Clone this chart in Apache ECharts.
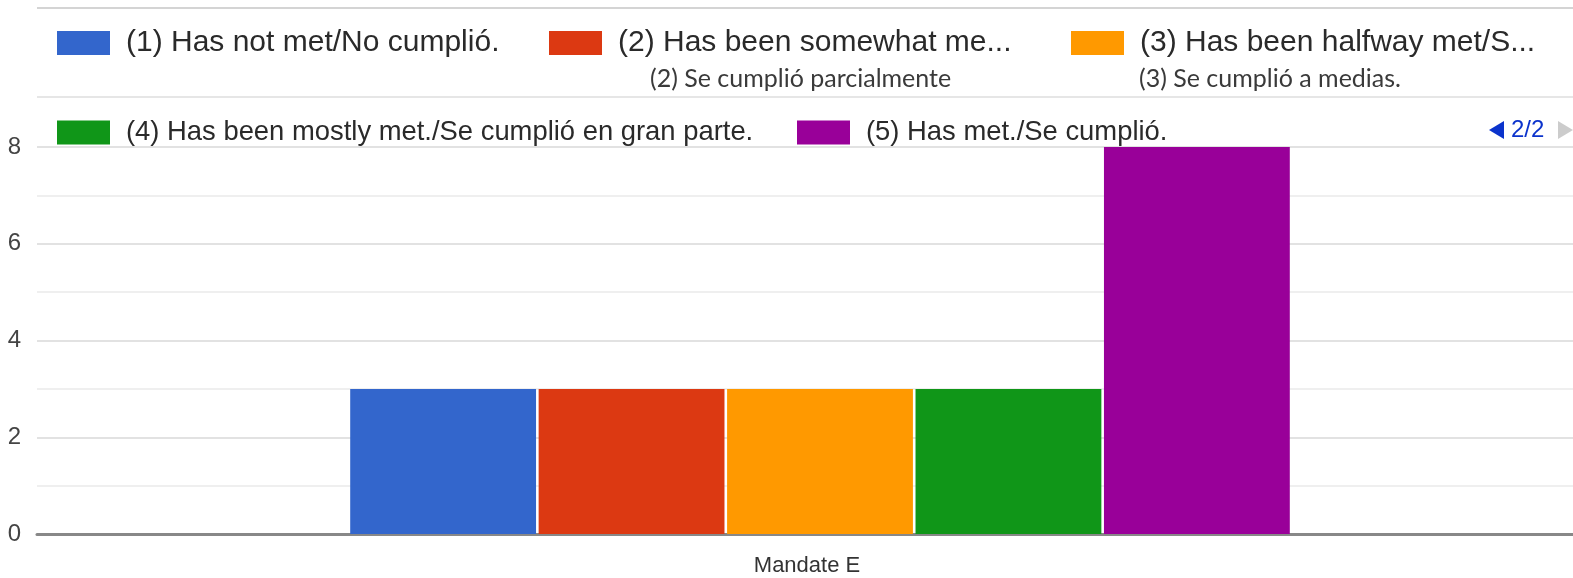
<!DOCTYPE html>
<html>
<head>
<meta charset="utf-8">
<script src="https://cdn.jsdelivr.net/npm/echarts@6/dist/echarts.min.js"></script>
<style>
html,body{margin:0;padding:0;background:#fff;}
#chart{width:1573px;height:578px;}
</style>
</head>
<body>
<div id="chart"></div>
<script>
// ---- data ----
const categories = ['Mandate E'];
const seriesNames = [
  '(1) Has not met/No cumplió.',
  '(2) Has been somewhat met./Se cumplió parcialmente',
  '(3) Has been halfway met/Se cumplió a medias.',
  '(4) Has been mostly met./Se cumplió en gran parte.',
  '(5) Has met./Se cumplió.'
];
const legendLabels = [
  '(1) Has not met/No cumplió.',
  '(2) Has been somewhat me...',
  '(3) Has been halfway met/S...',
  '(4) Has been mostly met./Se cumplió en gran parte.',
  '(5) Has met./Se cumplió.'
];
const subLabels = ['(2) Se cumplió parcialmente', '(3) Se cumplió a medias.'];
const values = [3, 3, 3, 3, 8];
const yTicks = [0, 2, 4, 6, 8];
const pagerText = '2/2';
const colors = ['#3366cc', '#dc3912', '#ff9900', '#109618', '#990099'];

// ---- layout / styles ----
const legendPos = [
  {left: 57, top: 28, size: 30},
  {left: 549, top: 28, size: 30},
  {left: 1071, top: 28, size: 30},
  {left: 57, top: 119, size: 27.4},
  {left: 797, top: 119, size: 27.4}
];

const chart = echarts.init(document.getElementById('chart'), null, {renderer: 'canvas'});

const legends = seriesNames.map((name, i) => ({
  show: true,
  data: [name],
  left: legendPos[i].left,
  top: legendPos[i].top,
  padding: 0,
  itemWidth: 53,
  itemHeight: 24,
  icon: 'rect',
  selectedMode: false,
  formatter: () => legendLabels[i],
  textStyle: {
    fontFamily: 'Liberation Sans, Arial, sans-serif',
    fontSize: legendPos[i].size,
    color: '#2a2a2a',
    padding: [0, 0, 0, 11]
  }
}));

const series = seriesNames.map((name, i) => ({
  name: name,
  type: 'bar',
  data: [values[i]],
  itemStyle: {color: colors[i]},
  barGap: '1.4%',
  barCategoryGap: '40%'
}));

chart.setOption({
  animation: false,
  color: colors,
  legend: legends,
  grid: {left: 37, width: 1566, top: 147, bottom: 44, outerBoundsMode: 'none', containLabel: false},
  xAxis: {
    type: 'category',
    data: categories,
    axisLine: {lineStyle: {color: '#888888', width: 3}},
    axisTick: {show: false},
    axisLabel: {
      fontFamily: 'Liberation Sans, Arial, sans-serif',
      fontSize: 22,
      color: '#333',
      margin: 21,
      padding: [0, 26, 0, 0]
    }
  },
  yAxis: {
    type: 'value',
    min: yTicks[0],
    max: yTicks[yTicks.length - 1],
    interval: 2,
    axisLine: {show: false},
    axisTick: {show: false},
    axisLabel: {
      fontFamily: 'Liberation Sans, Arial, sans-serif',
      fontSize: 24,
      color: '#444',
      margin: 16
    },
    splitLine: {lineStyle: {color: '#e2e2e2', width: 2}},
    minorTick: {show: false, splitNumber: 2},
    minorSplitLine: {show: true, lineStyle: {color: '#efefef', width: 2}}
  },
  series: series,
  graphic: [
    {type: 'line', shape: {x1: 37, y1: 8, x2: 1573, y2: 8}, style: {stroke: '#d4d4d4', lineWidth: 2}},
    {type: 'line', shape: {x1: 37, y1: 97, x2: 1573, y2: 97}, style: {stroke: '#e6e6e6', lineWidth: 2}},
    {type: 'text', left: 650, top: 66, style: {text: subLabels[0], font: '25px Lato, "Open Sans", sans-serif', fill: '#3a3a3a'}},
    {type: 'text', left: 1139, top: 66, style: {text: subLabels[1], font: '25px Lato, "Open Sans", sans-serif', fill: '#3a3a3a'}},
    {type: 'polygon', shape: {points: [[1489, 130], [1504, 121], [1504, 139]]}, style: {fill: '#0b33cc'}},
    {type: 'text', left: 1511, top: 118, style: {text: pagerText, font: '24px "Liberation Sans", Arial, sans-serif', fill: '#0b33cc'}},
    {type: 'polygon', shape: {points: [[1558, 121], [1558, 139], [1573, 130]]}, style: {fill: '#cccccc'}}
  ]
});
</script>
</body>
</html>
